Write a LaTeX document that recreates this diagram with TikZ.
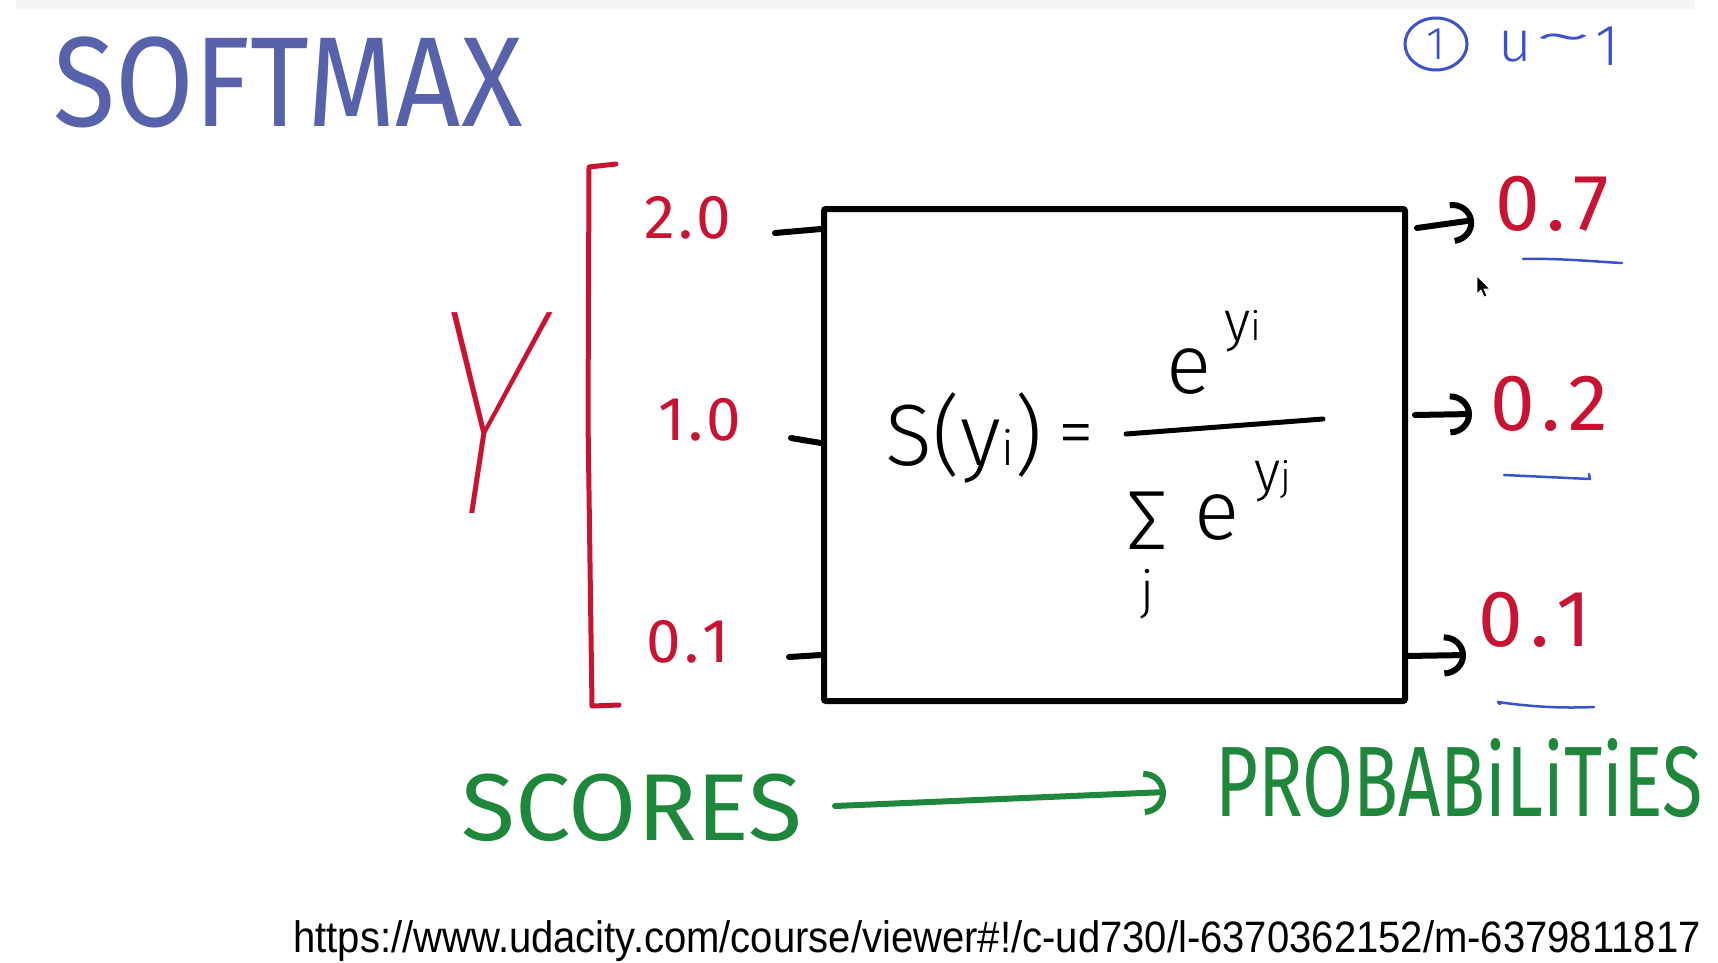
\documentclass[tikz,border=0pt]{standalone}
\usepackage{fontspec}
\setmainfont{Fira Sans}
\newfontfamily\lightfont{Fira Sans Light}
\newfontfamily\yfont{Fira Sans Thin}[FakeSlant=0.2]
\newfontfamily\urlfont{Liberation Sans}
\usetikzlibrary{arrows.meta,shapes.geometric}
\newcommand\hfs[1]{\fontsize{#1}{#1}\selectfont}
\definecolor{softblue}{RGB}{88,98,170}
\definecolor{penred}{RGB}{200,20,50}
\definecolor{pengreen}{RGB}{30,135,60}
\definecolor{penblue}{RGB}{60,82,205}
\tikzset{
  txt/.style={inner sep=0pt, anchor=center},
  redtxt/.style={txt, text=penred},
  greentxt/.style={txt, text=pengreen},
  form/.style={txt, text=black, font=\lightfont},
  blackpen/.style={draw=black, line width=6pt, line cap=round, line join=round},
  redpen/.style={draw=penred, line width=5pt, line cap=round, line join=round},
  bluepen/.style={draw=penblue, line width=2.5pt, line cap=round, line join=round},
  outarrow/.style={blackpen, -{Arc Barb[length=22pt,width=42pt]}},
  greenarrow/.style={draw=pengreen, line width=6pt, line cap=round, -{Arc Barb[length=22pt,width=44pt]}}
}
\begin{document}
\begin{tikzpicture}[x=1pt,y=-1pt]
\useasboundingbox (0,0) rectangle (1718,962);
\fill[white] (0,0) rectangle (1718,962);
\fill[black!4] (16,0) rectangle (1695,9);

% title
\node[txt, text=softblue, font={\hfs{128}}] (softmax) at (288,82) {\scalebox{0.89}[1]{SOFTMAX}};

% top right note
\node[txt, draw=penblue, line width=3pt, ellipse, minimum width=62pt, minimum height=52pt, text=penblue, font={\lightfont\hfs{46}}] (c1) at (1436,44) {1};
\node[txt, text=penblue, font={\lightfont\hfs{58}}] (nu) at (1515,47) {u};
\node[txt, text=penblue, font={\lightfont\hfs{58}}] (ntilde) at (1564,45) {\scalebox{2.2}[1]{\textasciitilde}};
\node[txt, text=penblue, font={\lightfont\hfs{58}}] (none) at (1607,46) {1};

% Y and bracket
\node[redtxt, font={\yfont\hfs{295}}] (Y) at (472,413) {\scalebox{0.76}[1]{Y}};
\draw[redpen] (616,164) -- (589,167) -- (588,420) -- (592,706) -- (619,705);

% input scores
\node[redtxt, font={\hfs{62}}] (s1) at (688,218) {2\kern3pt.\kern3pt0};
\node[redtxt, font={\hfs{62}}] (s2) at (700,420) {1\kern3pt.\kern3pt0};
\node[redtxt, font={\hfs{62}}] (s3) at (688,642) {0\kern3pt.\kern3pt1};

% box
\node[txt, draw=black, line width=6pt, rounded corners=2pt, minimum width=581pt, minimum height=492pt] (box) at (1114.5,455) {};

% input ticks
\coordinate (t1) at (775,233); \coordinate (r1) at (0,229);
\coordinate (t2) at (791,438); \coordinate (r2) at (0,443);
\coordinate (t3) at (789,657); \coordinate (r3) at (0,655);
\draw[blackpen] (t1) -- (box.west |- r1);
\draw[blackpen] (t2) -- (box.west |- r2);
\draw[blackpen] (t3) -- (box.west |- r3);

% formula
\node[form, font={\lightfont\hfs{87}}] (lhs) at (964,438) {S(y{\hfs{48}i})};
\node[form, font={\lightfont\hfs{72}}] (eq) at (1076,441) {=};
\draw[draw=black, line width=5pt, line cap=round] (1126,434) -- (1323,419);
\node[form, font={\lightfont\hfs{84}}] (ne) at (1189,372) {e};
\node[form, font={\lightfont\hfs{56}}] (nsup) at (1243,331) {y{\hfs{40}i}};
\node[form, font={\lightfont\hfs{84}}] (sig) at (1147,521) {Σ};
\node[form, font={\lightfont\hfs{52}}] (dj) at (1148,594) {j};
\node[form, font={\lightfont\hfs{84}}] (de) at (1217,518) {e};
\node[form, font={\lightfont\hfs{56}}] (dsup) at (1273,481) {y{\hfs{40}j}};

% outputs
\node[redtxt, font={\hfs{80}}] (p1) at (1552,204) {0\kern7pt.\kern7pt7};
\node[redtxt, font={\hfs{80}}] (p2) at (1549,404) {0\kern7pt.\kern7pt2};
\node[redtxt, font={\hfs{80}}] (p3) at (1535,620) {0\kern7pt.\kern7pt1};

\coordinate (a1s) at (1417,228); \coordinate (a1e) at (1474,220);
\coordinate (a2s) at (1415,415); \coordinate (a2e) at (1472,414);
\coordinate (a3s) at (1406,656); \coordinate (a3e) at (1466,655);
\draw[outarrow] (a1s) -- (a1e);
\draw[outarrow] (a2s) -- (a2e);
\draw[outarrow] (a3s) -- (a3e);

% blue underlines
\draw[bluepen] (1523,259) .. controls (1560,258) and (1600,262) .. (1622,263);
\draw[bluepen] (1504,475) -- (1590,479) -- (1589,474);
\draw[bluepen] (1500,704) -- (1498,702) .. controls (1540,708) and (1570,708) .. (1594,707);

% cursor
\filldraw[fill=black, draw=white, line width=0.8pt] (1477,276) -- (1477,294) -- (1481,290) -- (1484,297) -- (1487,296) -- (1484,289) -- (1490,289) -- cycle;

% scores -> probabilities
\node[greentxt, font={\hfs{95}}] (scores) at (632,808) {\scalebox{1.04}[1]{SCORES}};
\node[greentxt, font={\hfs{100}}] (probs) at (1459,778) {\scalebox{0.74}[1]{PROBABiLiTiES}};
\coordinate (g1) at (835,806); \coordinate (g2) at (1166,792);
\draw[greenarrow] (g1) -- (g2);

% url
\node[txt, anchor=base, font={\urlfont\hfs{44}}] (url) at (997,952) {\scalebox{0.91}[1]{https://www.udacity.com/course/viewer\#!/c-ud730/l-6370362152/m-6379811817}};
\end{tikzpicture}
\end{document}
